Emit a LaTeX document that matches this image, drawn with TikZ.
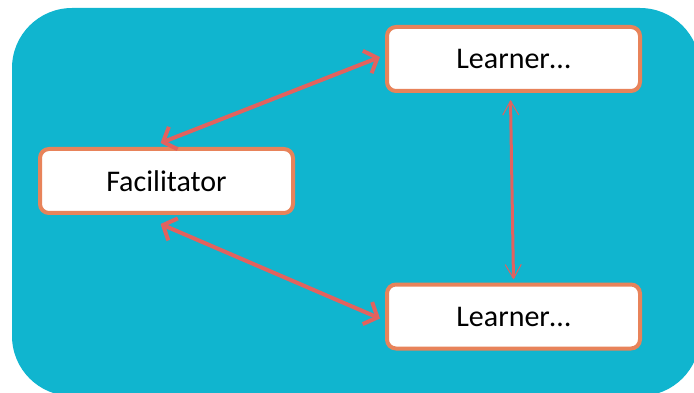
\documentclass[tikz,border=0pt]{standalone}
\usepackage{fontspec}
\setmainfont{Carlito}
\usepackage{tikz}
\usetikzlibrary{positioning,arrows.meta}

\definecolor{panel}{HTML}{10B5CF}
\definecolor{boxline}{HTML}{E8835A}
\definecolor{linkred}{HTML}{E2625E}

\begin{document}
\begin{tikzpicture}[x=1pt, y=-1pt,
    role/.style={draw=boxline, line width=4pt, fill=white, rounded corners=9pt,
        minimum width=253pt, minimum height=64pt, font=\fontsize{30}{36}\selectfont},
    link/.style={draw=linkred, line width=4pt,
        {Straight Barb[length=11pt, width=24pt, line width=4pt]}-{Straight Barb[length=11pt, width=24pt, line width=4pt]}},
    peerlink/.style={draw=linkred, line width=3pt,
        {Straight Barb[length=14pt, width=16pt, line width=1pt]}-{Straight Barb[length=14pt, width=16pt, line width=1pt]}}]
        \useasboundingbox (0,0) rectangle (694,393);
        \fill[panel, rounded corners=60pt] (12,8) rectangle (700,396);

        \node (fac) [role] at (166.5,181) {Facilitator};
        \node (learnA) [role] at (513.5,59) {Learner…};
        \node (learnB) [role] at (513.5,316.5) {Learner…};

        \draw[link] ([xshift=-6pt,yshift=4pt]fac.north) -- ([xshift=-5pt,yshift=2pt]learnA.west);
        \draw[link] ([xshift=-6pt,yshift=-9pt]fac.south) -- ([xshift=-5pt,yshift=-2pt]learnB.west);
        \draw[peerlink] ([xshift=-3pt,yshift=-7pt]learnA.south) -- ([yshift=3pt]learnB.north);
    \end{tikzpicture}
\end{document}
